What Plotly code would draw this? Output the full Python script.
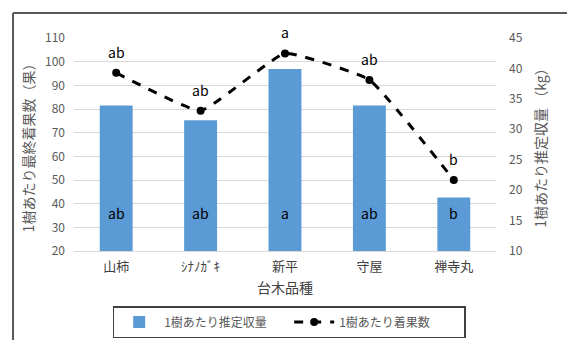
import plotly.graph_objects as go

categories = ["山柿", "ｼﾅﾉｶﾞｷ", "新平", "守屋", "禅寺丸"]
yield_kg = [33.9, 31.5, 39.9, 33.9, 18.8]
fruit_count = [95.3, 79.3, 103.5, 92.3, 50.0]
yield_letters = ["ab", "ab", "a", "ab", "b"]
count_letters = ["ab", "ab", "a", "ab", "b"]
left_ticks = list(range(20, 111, 10))
right_ticks = list(range(10, 46, 5))

FONT = "Noto Sans CJK JP"
GRAY = "#595959"

fig = go.Figure()
fig.add_trace(go.Bar(
    x=categories, y=yield_kg, name="1樹あたり推定収量",
    marker=dict(color="#5B9BD5", line=dict(width=0)),
    width=0.39, yaxis="y",
))
fig.add_trace(go.Scatter(
    x=categories, y=fruit_count, name="1樹あたり着果数",
    mode="lines+markers", yaxis="y2",
    line=dict(color="black", width=3, dash="dash", shape="spline", smoothing=0.35),
    marker=dict(color="black", size=8),
))

annotations = []
for c, t in zip(categories, yield_letters):
    annotations.append(dict(x=c, y=10, xref="x", yref="y", text=t, showarrow=False,
                            yshift=38, font=dict(size=14, color="black", family=FONT)))
for c, v, t in zip(categories, fruit_count, count_letters):
    annotations.append(dict(x=c, y=v, xref="x", yref="y2", text=t, showarrow=False,
                            yshift=21, font=dict(size=14, color="black", family=FONT)))

fig.update_layout(
    width=567, height=340,
    margin=dict(l=74, r=71, t=38, b=89, autoexpand=False),
    paper_bgcolor="white", plot_bgcolor="white",
    font=dict(family=FONT, color=GRAY, size=12),
    showlegend=True,
    legend=dict(orientation="h", x=0.51, xanchor="center", xref="container",
                y=2 / 340, yanchor="bottom", yref="container",
                bordercolor="#404040", borderwidth=1.5, font=dict(size=12, color=GRAY),
                traceorder="normal", entrywidth=120, itemwidth=40),
    xaxis=dict(showgrid=False, showline=True, linecolor="#D9D9D9", linewidth=1,
               tickfont=dict(size=13, color="#404040"), ticklabelstandoff=3,
               title=dict(text="台木品種", font=dict(size=14, color="#404040"), standoff=9)),
    yaxis=dict(side="right", range=[10, 45], tickvals=right_ticks, showgrid=False,
               zeroline=False, tickfont=dict(size=12, color=GRAY), ticklabelstandoff=12,
               title=dict(text="1樹あたり推定収量 （kg）", font=dict(size=14, color=GRAY), standoff=14)),
    yaxis2=dict(side="left", overlaying="y", range=[20, 110], tickvals=left_ticks,
                showgrid=True, gridcolor="#D9D9D9", gridwidth=1, zeroline=False,
                tickfont=dict(size=12, color=GRAY), ticklabelstandoff=8,
                title=dict(text="1樹あたり最終着果数（果）", font=dict(size=14, color=GRAY), standoff=7)),
    annotations=annotations,
    shapes=[
        dict(type="line", xref="paper", yref="paper", x0=-0.1445, x1=-0.1445, y0=1.117, y1=-0.6,
             line=dict(color=GRAY, width=2)),
        dict(type="line", xref="paper", yref="paper", x0=-0.1445, x1=1.3, y0=1.117, y1=1.117,
             line=dict(color=GRAY, width=2)),
    ],
)

fig.write_html("out.html")
